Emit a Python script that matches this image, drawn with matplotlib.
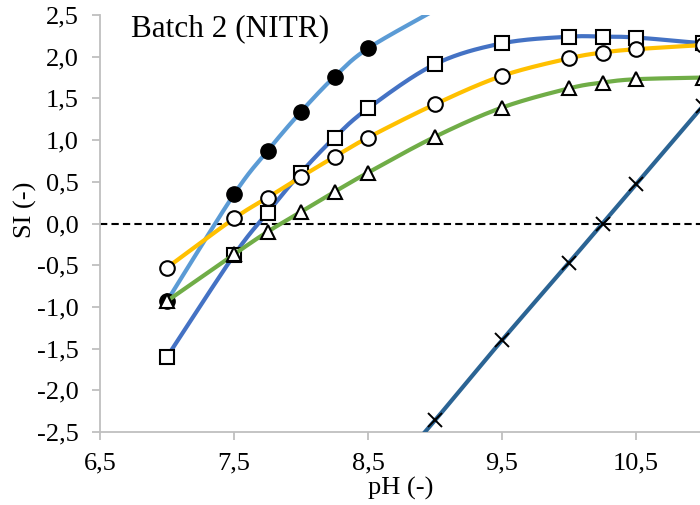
import numpy as np
import matplotlib.pyplot as plt

plt.rcParams['font.family'] = ['Liberation Serif', 'DejaVu Serif']

# pH values and saturation indices per mineral phase
ph_full = [7.0, 7.5, 7.75, 8.0, 8.25, 8.5, 9.0, 9.5, 10.0, 10.25, 10.5, 11.0]
ph_short = [7.0, 7.5, 7.75, 8.0, 8.25, 8.5, 9.0]
ph_cross = [8.5, 9.0, 9.5, 10.0, 10.25, 10.5, 11.0]

si_filled = [-0.93, 0.35, 0.87, 1.34, 1.76, 2.10, 2.56]
si_square = [-1.60, -0.38, 0.13, 0.61, 1.03, 1.38, 1.91, 2.16, 2.24, 2.24, 2.23, 2.16]
si_circle = [-0.53, 0.06, 0.31, 0.56, 0.80, 1.03, 1.43, 1.77, 1.98, 2.05, 2.09, 2.14]
si_triangle = [-0.93, -0.37, -0.10, 0.14, 0.38, 0.61, 1.04, 1.39, 1.62, 1.69, 1.73, 1.75]
si_cross = [-3.30, -2.36, -1.40, -0.47, 0.00, 0.47, 1.41]

x_ticks = [6.5, 7.5, 8.5, 9.5, 10.5]
y_ticks = [-2.5, -2.0, -1.5, -1.0, -0.5, 0.0, 0.5, 1.0, 1.5, 2.0, 2.5]


def smooth(x, y, n=40):
    # cubic Bezier segments through every point (spreadsheet-style smoothed line)
    p = np.column_stack([x, y]).astype(float)
    ext = np.vstack([p[0], p, p[-1]])
    t = np.linspace(0, 1, n)[:, None]
    out = []
    for i in range(len(p) - 1):
        p0, p1 = ext[i + 1], ext[i + 2]
        c1 = p0 + (ext[i + 2] - ext[i]) / 6
        c2 = p1 - (ext[i + 3] - ext[i + 1]) / 6
        seg = ((1 - t) ** 3) * p0 + 3 * ((1 - t) ** 2) * t * c1 + 3 * (1 - t) * t ** 2 * c2 + t ** 3 * p1
        out.append(seg)
    out = np.vstack(out)
    return out[:, 0], out[:, 1]


fig = plt.figure(figsize=(7, 5.05), dpi=100)
ax = fig.add_axes([100 / 700, 73 / 505, 603 / 700, 417 / 505])
ax.set_xlim(6.5, 11.0)
ax.set_ylim(-2.5, 2.5)

ax.axhline(0, color='black', lw=1.5, ls=(0, (3.5, 2)), zorder=1)

series = [
    (ph_short, si_filled, '#5B9BD5', dict(marker='o', ms=11, mfc='black', mec='black', mew=1.0)),
    (ph_full, si_square, '#4472C4', dict(marker='s', ms=10, mfc='white', mec='black', mew=1.5)),
    (ph_full, si_circle, '#FFC000', dict(marker='o', ms=10.5, mfc='white', mec='black', mew=1.5)),
    (ph_full, si_triangle, '#70AD47', dict(marker='^', ms=10.5, mfc='white', mec='black', mew=1.5)),
    (ph_cross, si_cross, '#2B6494', dict(marker='x', ms=10, mfc='black', mec='black', mew=1.4)),
]

z = 2
for xs, ys, col, mk in series:
    sx, sy = smooth(xs, ys)
    ax.plot(sx, sy, color=col, lw=3, solid_capstyle='round', zorder=z)
    xs_a, ys_a = np.array(xs), np.array(ys)
    inside = (ys_a <= 2.5) & (ys_a >= -2.5)
    ax.plot(xs_a[inside], ys_a[inside], ls='none', zorder=z + 0.5, **mk)
    z += 1

for side in ['top', 'right']:
    ax.spines[side].set_visible(False)
for side in ['left', 'bottom']:
    ax.spines[side].set_color('#BFBFBF')
    ax.spines[side].set_linewidth(1.3)

ax.set_xticks(x_ticks)
ax.set_yticks(y_ticks)
ax.set_xticklabels([f'{v:.1f}'.replace('.', ',') for v in x_ticks])
ax.set_yticklabels([f'{v:.1f}'.replace('.', ',') for v in y_ticks])
ax.tick_params(axis='both', colors='#BFBFBF', labelcolor='black', labelsize=19,
               length=5.5, width=1.3, direction='out')
ax.tick_params(axis='y', pad=10)
ax.tick_params(axis='x', pad=9)

fig.text(401 / 700, 1 - 488 / 505, 'pH (-)', fontsize=19, ha='center', va='center')
fig.text(25 / 700, 1 - 210 / 505, 'SI (-)', fontsize=19, ha='center', va='center', rotation=90)
fig.text(131 / 700, 1 - 36 / 505, 'Batch 2 (NITR)', fontsize=22.5, ha='left', va='baseline')

fig.savefig('out.png', dpi=100)
